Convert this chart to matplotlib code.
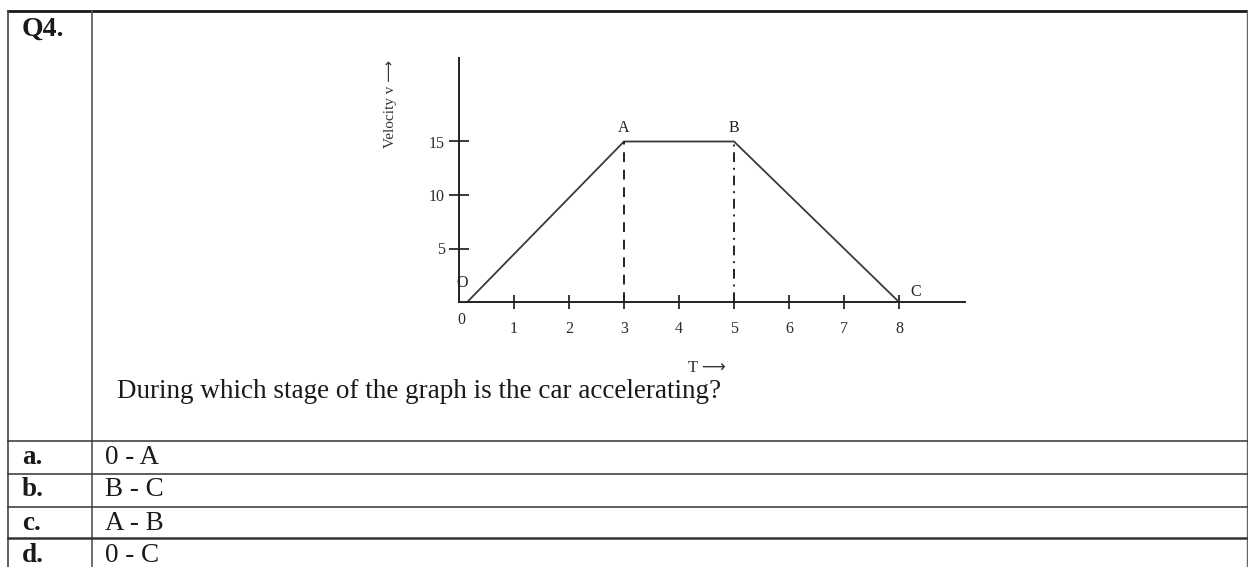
import matplotlib
matplotlib.use("Agg")
import matplotlib.pyplot as plt

plt.rcParams['font.family'] = ['Liberation Serif', 'DejaVu Sans']

# graph data: time vs velocity
t = [0.15, 3, 5, 8]
v = [0, 15, 15, 0]
point_names = ['O', 'A', 'B', 'C']
x_ticks = [1, 2, 3, 4, 5, 6, 7, 8]
y_ticks = [5, 10, 15]

question_no = "Q4."
question = "During which stage of the graph is the car accelerating?"
option_keys = ["a.", "b.", "c.", "d."]
option_texts = ["0 - A", "B - C", "A - B", "0 - C"]

W, H = 1248, 567
fig = plt.figure(figsize=(W / 100, H / 100), dpi=100)

# page / table layer in pixel coords
bg = fig.add_axes([0, 0, 1, 1])
bg.set_xlim(0, W)
bg.set_ylim(H, 0)
bg.axis('off')

ink = '#1a1a1a'
row_lines = [441, 474, 507, 538]
bg.plot([8, 1247], [11, 11], color=ink, lw=2.0)
bg.plot([8, 8], [11, H], color='#444444', lw=1.2)
bg.plot([1246.5, 1246.5], [11, H], color='#666666', lw=1.0)
bg.plot([92, 92], [11, H], color='#555555', lw=1.2)
for i, y in enumerate(row_lines):
    bg.plot([8, 1247], [y, y], color='#333333', lw=1.8 if i == 3 else 1.1)

bg.text(22, 29, question_no, fontsize=20, fontweight='bold', color=ink,
        va='center', ha='left')
bg.text(117, 392, question, fontsize=19.5, color=ink, va='center', ha='left')
row_mid = [458, 490, 524, 556]
for key, txt, ym in zip(option_keys, option_texts, row_mid):
    bg.text(22, ym, key, fontsize=19.5, fontweight='bold', color=ink, va='center')
    bg.text(105, ym, txt, fontsize=19.5, color=ink, va='center')

# the velocity-time graph
x0, x1 = 459, 965
ytop, ybot = 58, 302
ax = fig.add_axes([x0 / W, 1 - ybot / H, (x1 - x0) / W, (ybot - ytop) / H])
ax.set_xlim(0, (x1 - x0) / 55.0)
ax.set_ylim(0, (ybot - ytop) / 10.7)
ax.patch.set_alpha(0)
for s in ['top', 'right']:
    ax.spines[s].set_visible(False)
for s in ['left', 'bottom']:
    ax.spines[s].set_color('#222222')
    ax.spines[s].set_linewidth(1.4)

ax.plot(t, v, color='#3a3a3a', lw=1.3, solid_joinstyle='miter')
ax.vlines([t[1]], 0, v[1], colors='#222222', lw=1.4, linestyles=(0, (5, 4)))
ax.vlines([t[2]], 0, v[2], colors='#222222', lw=1.4, linestyles=(0, (5, 3, 1, 3)))

ax.set_xticks(x_ticks)
ax.set_yticks(y_ticks)
ax.tick_params(axis='x', direction='inout', length=10, width=1.3, pad=9,
               labelsize=11.5, colors='#2a2a2a')
ax.tick_params(axis='y', direction='inout', length=14, width=1.3, pad=3,
               labelsize=11.5, colors='#2a2a2a')
ax.text(0.04, -1.7, '0', fontsize=11.5, color='#2a2a2a', ha='center', va='center')

offsets = [(-4, 14), (0, 10), (0, 10), (12, 7)]
for name, tt, vv, off in zip(point_names, t, v, offsets):
    ax.annotate(name, (tt, vv), xytext=off, textcoords='offset points',
                fontsize=11.5, color='#222222', ha='center', va='center')

ax.set_ylabel('Velocity v \u27f6', fontsize=11, color='#333333')
ax.yaxis.set_label_coords(-0.1225, 0.81)
ax.set_xlabel('T \u27f6', fontsize=12, color='#333333')
ax.xaxis.set_label_coords(0.49, -0.238)

fig.savefig('out.png', dpi=100)
